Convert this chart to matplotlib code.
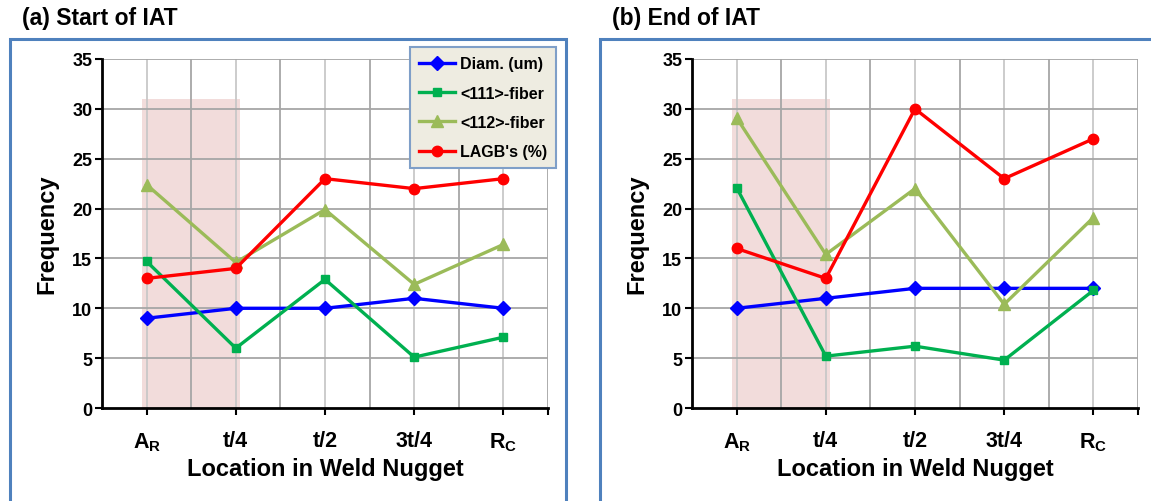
import matplotlib.pyplot as plt
import matplotlib.patches as patches

plt.rcParams['font.family'] = ['Liberation Sans', 'DejaVu Sans']
plt.rcParams['font.weight'] = 'bold'
plt.rcParams['mathtext.fontset'] = 'custom'
plt.rcParams['mathtext.rm'] = 'Liberation Sans:bold'
plt.rcParams['mathtext.it'] = 'Liberation Sans:bold'
plt.rcParams['mathtext.bf'] = 'Liberation Sans:bold'

locations = ['$A_R$', 't/4', 't/2', '3t/4', '$R_C$']
series_names = ['Diam. (um)', '<111>-fiber', '<112>-fiber', "LAGB's (%)"]

# (a) start of IAT
start_diam = [9, 10, 10, 11, 10]
start_111 = [14.7, 6.0, 12.9, 5.1, 7.1]
start_112 = [22.4, 14.6, 19.9, 12.4, 16.4]
start_lagb = [13, 14, 23, 22, 23]

# (b) end of IAT
end_diam = [10, 11, 12, 12, 12]
end_111 = [22.1, 5.2, 6.2, 4.8, 11.8]
end_112 = [29.1, 15.4, 22.0, 10.4, 19.1]
end_lagb = [16, 13, 30, 23, 27]

shade_top = 31

colors = ['#0000ff', '#00b050', '#9bbb59', '#ff0000']
markers = ['D', 's', '^', 'o']
msizes = [7.5, 5.5, 8.5, 7.5]

fig = plt.figure(figsize=(11.51, 5.02), dpi=100)

# blue frames round each panel
fig.add_artist(patches.Rectangle((10/1151, -0.1), 556/1151, 1.1 - 40/502,
                                 transform=fig.transFigure, fill=False,
                                 edgecolor='#4f81bd', linewidth=2.2))
fig.add_artist(patches.Rectangle((600/1151, -0.1), 0.6, 1.1 - 40/502,
                                 transform=fig.transFigure, fill=False,
                                 edgecolor='#4f81bd', linewidth=2.2))

fig.text(22/1151, 1 - 18/502, '(a) Start of IAT', fontsize=16.5, fontweight='bold', va='center')
fig.text(612/1151, 1 - 18/502, '(b) End of IAT', fontsize=16.5, fontweight='bold', va='center')

ax1 = fig.add_axes([102/1151, 1 - 409/502, 446/1151, 349/502])
ax2 = fig.add_axes([692/1151, 1 - 409/502, 446/1151, 349/502])

panels = [(ax1, [start_diam, start_111, start_112, start_lagb]),
          (ax2, [end_diam, end_111, end_112, end_lagb])]

x = list(range(len(locations)))
for ax, data in panels:
    ax.set_xlim(-0.5, 4.5)
    ax.set_ylim(0, 35)
    ax.axvspan(-0.05, 1.05, ymin=0, ymax=shade_top/35, color='#f2dcdb', zorder=0, lw=0)
    for k in range(10):
        xv = 0.5*k
        c = '#c8c8c8' if k % 2 == 0 else '#a6a6a6'
        ax.axvline(xv, color=c, lw=1.3, zorder=1)
    for yv in range(5, 36, 5):
        ax.axhline(yv, color='#a6a6a6', lw=1.3, zorder=1)
    for vals, c, m, ms, name in zip(data, colors, markers, msizes, series_names):
        ax.plot(x, vals, color=c, marker=m, markersize=ms, lw=2.4, label=name, zorder=3)
    ax.set_xticks(x)
    ax.set_xticks([4.5], minor=True)
    ax.set_xticklabels(locations, fontsize=15.5, fontweight='bold')
    ax.set_yticks(range(0, 36, 5))
    ax.set_yticklabels([str(v) for v in range(0, 36, 5)], fontsize=13, fontweight='bold')
    ax.tick_params(axis='both', which='both', direction='out', length=5, width=1.5, pad=2)
    ax.tick_params(axis='x', which='major', pad=11)
    for s in ['top', 'right']:
        ax.spines[s].set_visible(False)
    for s in ['left', 'bottom']:
        ax.spines[s].set_linewidth(2)
    ax.set_xlabel('Location in Weld Nugget', fontsize=17, fontweight='bold', labelpad=3)
    ax.set_ylabel('Frequency', fontsize=17, fontweight='bold', labelpad=10)
    ax.set_facecolor('none')

leg = ax1.legend(loc='upper left', bbox_to_anchor=(0.69, 1.033), borderaxespad=0,
                 fancybox=False, framealpha=1, facecolor='#eeece1', edgecolor='#7f9fc8',
                 prop={'weight': 'bold', 'size': 11.5}, handlelength=2.3,
                 handletextpad=0.3, labelspacing=0.9, borderpad=0.55)
leg.get_frame().set_linewidth(1.5)

fig.savefig('out.png', dpi=100)
